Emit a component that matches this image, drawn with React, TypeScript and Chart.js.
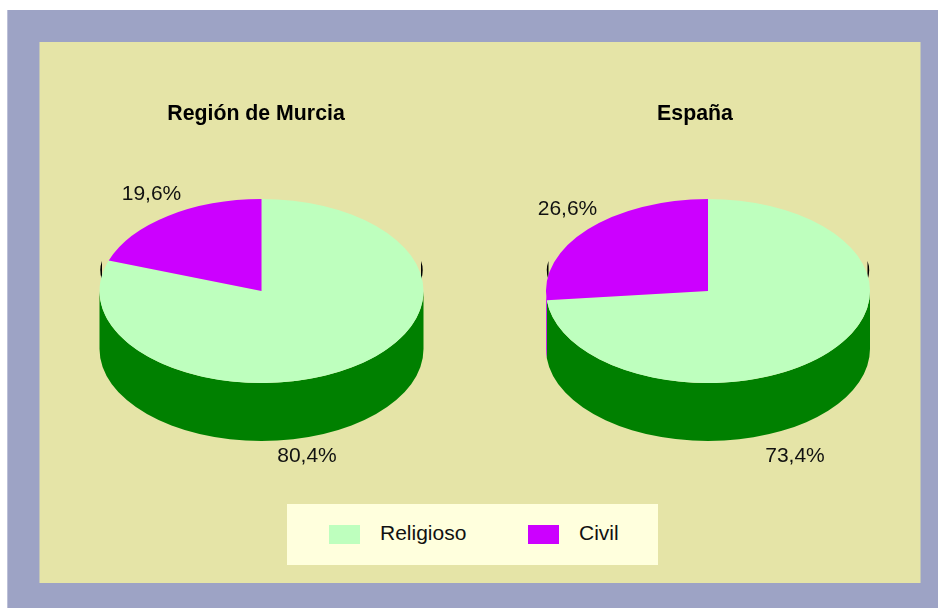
import React, { useEffect, useRef } from "react";
import { Chart, registerables } from "chart.js";

Chart.register(...registerables);

const categories = ["Religioso", "Civil"];
const murciaValues = [80.4, 19.6];
const espanaValues = [73.4, 26.6];

const FONT = '"Liberation Sans", Arial, sans-serif';
const topColors = ["#BEFFBE", "#CC00FF"];
const wallColors = ["#008000", "#CC00FF"];
const RY = 92;
const DEPTH = 58;

function pct(v: number) {
  return v.toFixed(1).replace(".", ",") + "%";
}

const pie3d = {
  id: "pie3d",
  beforeDatasetsDraw(chart: any) {
    const ctx = chart.ctx;
    const arcs = chart.getDatasetMeta(0).data;
    const { x: cx, y: cy, outerRadius: rx } = arcs[0];
    const ky = RY / rx;
    ctx.save();
    ctx.fillStyle = "#000";
    for (const s of [-1, 1]) {
      ctx.beginPath();
      ctx.moveTo(cx + s * (rx - 2.5), cy - 30);
      ctx.quadraticCurveTo(cx + s * (rx + 1), cy - 21, cx + s * (rx - 2.5), cy - 11);
      ctx.closePath();
      ctx.fill();
    }
    arcs.forEach((arc: any, i: number) => {
      const a0 = Math.max(arc.startAngle, 0);
      const a1 = Math.min(arc.endAngle, Math.PI);
      if (a1 <= a0) return;
      ctx.beginPath();
      ctx.ellipse(cx, cy, rx, RY, 0, a0, a1);
      ctx.ellipse(cx, cy + DEPTH, rx, RY, 0, a1, a0, true);
      ctx.closePath();
      ctx.fillStyle = wallColors[i];
      ctx.fill();
    });
    ctx.restore();
    ctx.save();
    ctx.translate(0, cy);
    ctx.scale(1, ky);
    ctx.translate(0, -cy);
  },
  afterDatasetsDraw(chart: any, _args: any, opts: any) {
    const ctx = chart.ctx;
    ctx.restore();
    const { x: cx, y: cy } = chart.getDatasetMeta(0).data[0];
    const values = chart.data.datasets[0].data;
    ctx.save();
    ctx.textBaseline = "middle";
    ctx.textAlign = "center";
    ctx.font = `bold 21.3px ${FONT}`;
    ctx.fillStyle = "#000";
    ctx.fillText(opts.title, cx + opts.titleDx, 71.8);
    ctx.font = `21px ${FONT}`;
    ctx.fillStyle = "#111";
    values.forEach((v: number, i: number) => {
      ctx.fillText(pct(v), cx + opts.offsets[i][0], cy + opts.offsets[i][1]);
    });
    ctx.restore();
  },
};

function Pie3D({ title, titleDx, values, left, width, offsets }: any) {
  const ref = useRef<HTMLCanvasElement>(null);
  useEffect(() => {
    const pad = (width - 324) / 2;
    const chart = new Chart(ref.current as HTMLCanvasElement, {
      type: "pie",
      data: {
        labels: categories,
        datasets: [{ data: values, backgroundColor: topColors, borderWidth: 0, clip: false } as any],
      },
      options: {
        responsive: false,
        animation: false,
        layout: { padding: { left: pad, right: pad, top: 87, bottom: 130 } },
        events: [],
        plugins: {
          legend: { display: false },
          tooltip: { enabled: false },
          title: { display: false },
          pie3d: { offsets, title, titleDx },
        } as any,
      },
      plugins: [pie3d],
    });
    return () => chart.destroy();
  }, []);
  return (
    <canvas
      ref={ref}
      width={width}
      height={541}
      style={{ position: "absolute", left, top: 42, width, height: 541, display: "block" }}
    />
  );
}

const box = (left: number, top: number, width: number, height: number, background: string): React.CSSProperties => ({
  position: "absolute", left, top, width, height, background,
});

export default function App() {
  const text: React.CSSProperties = {
    position: "absolute", top: 519, font: `21px ${FONT}`, lineHeight: "28px", color: "#111", whiteSpace: "nowrap",
  };
  return (
    <div style={{ position: "fixed", left: 0, top: 0, width: 938, height: 608, background: "#fff", overflow: "hidden" }}>
      <div style={box(7, 10, 931, 598, "#9DA3C5")} />
      <div style={box(7, 10, 1, 598, "#BCC0D8")} />
      <div style={box(39, 42, 881, 541, "#E5E4A7")} />
      <div style={box(39, 42, 1, 541, "#C2C5B8")} />
      <div style={box(920, 42, 1, 541, "#C2C5B8")} />
      <Pie3D title="Región de Murcia" titleDx={-5.5} values={murciaValues} left={39} width={445} offsets={[[45.5, 165.5], [-110, -96.5]]} />
      <Pie3D title="España" titleDx={-13} values={espanaValues} left={496} width={424} offsets={[[87, 165.5], [-140.5, -81.5]]} />
      <div style={box(287, 504, 371, 61, "#FFFFDD")} />
      <div style={box(329, 525, 31, 19, topColors[0])} />
      <div style={{ ...text, left: 380 }}>{categories[0]}</div>
      <div style={box(528, 525, 31, 19, topColors[1])} />
      <div style={{ ...text, left: 579 }}>{categories[1]}</div>
    </div>
  );
}
